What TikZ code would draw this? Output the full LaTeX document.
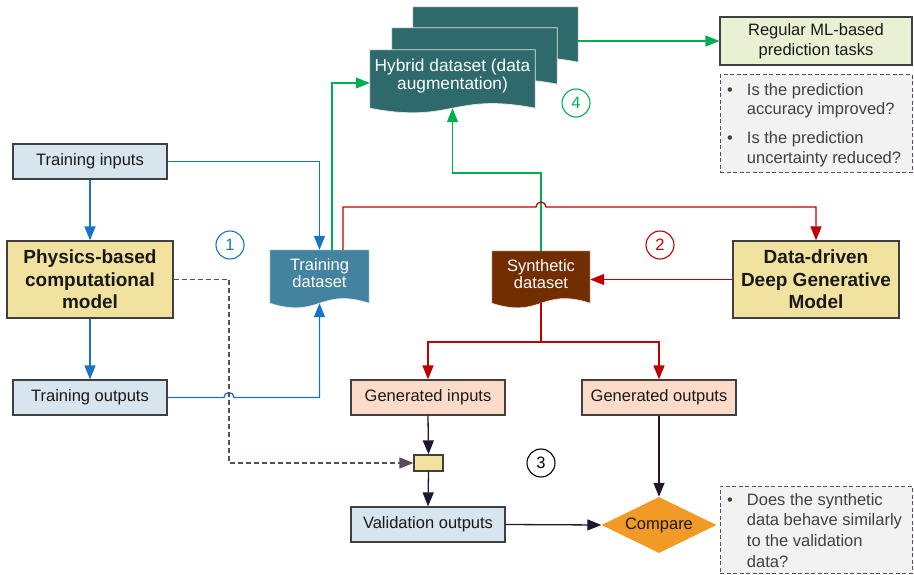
\documentclass[tikz,border=0pt]{standalone}
\usepackage{fontspec}
\setmainfont{Liberation Sans}
\usetikzlibrary{arrows.meta,calc,shapes.geometric}
\definecolor{lblue}{HTML}{D6E5EE}
\definecolor{khaki}{HTML}{F2E2A0}
\definecolor{peach}{HTML}{FCDCC9}
\definecolor{lgreen}{HTML}{EAF0D3}
\definecolor{qgray}{HTML}{F2F2F2}
\definecolor{qborder}{HTML}{5A4B69}
\definecolor{bord}{HTML}{404040}
\definecolor{hybcol}{HTML}{2E6A6B}
\definecolor{tdscol}{HTML}{44839F}
\definecolor{sdscol}{HTML}{722D00}
\definecolor{cblue}{HTML}{1874C6}
\definecolor{cred}{HTML}{C00000}
\definecolor{cgreen}{HTML}{00B050}
\definecolor{cdark}{HTML}{221530}
\definecolor{corange}{HTML}{F29A26}
\definecolor{qtxt}{HTML}{404040}
\definecolor{dashc}{HTML}{5A4A5A}
\newcommand\docpath[2]{\path[#2] (#1.north west) -- (#1.north east) -- (#1.south east) .. controls ($(#1.south)+(0,-16)$) and ($(#1.south)+(0,16)$) .. (#1.south west) -- cycle;}
\begin{document}
\begin{tikzpicture}[x=1pt,y=-1pt,
  font=\fontsize{16.5}{19.5}\selectfont,
  box/.style={draw=bord, line width=1.2pt, inner sep=0pt, align=center, text=black!90},
  lbbox/.style={box, fill=lblue, minimum width=154pt, minimum height=35pt},
  pbox/.style={box, fill=peach, minimum width=154pt, minimum height=35pt},
  kbox/.style={box, fill=khaki, minimum width=166pt, minimum height=77pt, font=\fontsize{19}{22.5}\selectfont\bfseries},
  qbox/.style={draw=qborder, fill=qgray, dash pattern=on 4pt off 2.5pt, line width=1pt, minimum width=192pt, inner sep=0pt},
  qtext/.style={text=qtxt, inner sep=0pt, anchor=north west, align=left},
  docbox/.style={inner sep=0pt},
  doctext/.style={text=white, align=center, inner sep=0pt},
  circ/.style={circle, draw, line width=1.1pt, minimum size=28pt, inner sep=0pt},
  conn/.style={line width=1.3pt},
  arr/.style={-{Triangle[length=14pt,width=11pt]}},
]
\useasboundingbox (0,0) rectangle (914,575);

% coordinates for routing
\coordinate (dcol) at (229,0);
\coordinate (redrow) at (0,207);
\coordinate (grow) at (0,173);
\coordinate (split) at (0,342);

% boxes
\node[lbbox] (tin) at (90,161.5) {Training inputs};
\node[kbox] (phys) at (90,279.5) {Physics-based\\computational\\model};
\node[lbbox] (tout) at (90,397.5) {Training outputs};
\node[kbox] (ddm) at (816,279.5) {Data-driven\\Deep Generative\\Model};
\node[pbox] (gin) at (428,397.5) {Generated inputs};
\node[pbox] (gout) at (659,397.5) {Generated outputs};
\node[lbbox] (vout) at (428,524.5) {Validation outputs};
\node[draw=bord, fill=khaki, line width=1.2pt, minimum width=29pt, minimum height=16pt, inner sep=0pt] (sbox) at (428.5,463) {};
\node[diamond, fill=corange, minimum width=115pt, minimum height=56pt, inner sep=0pt, aspect=2, text=black!90] (cmp) at (659,525) {Compare};
\node[box, fill=lgreen, minimum width=192pt, minimum height=48pt] (rml) at (816,41) {Regular ML-based\\prediction tasks};
\node[qbox, minimum height=98pt] (gq1) at (816,124) {};
\node[qbox, minimum height=87pt] (gq2) at (816,529.5) {};
\node[qtext] (gq1t) at (727,81.5) {\begin{tabular}{@{}l@{\hspace{14pt}}l@{}}\textbullet & Is the prediction\\ & accuracy improved?\\[9.5pt]\textbullet & Is the prediction\\ & uncertainty reduced?\end{tabular}};
\node[qtext, font=\fontsize{16.5}{20.7}\selectfont] (gq2t) at (727,490.5) {\begin{tabular}{@{}l@{\hspace{14pt}}l@{}}\textbullet & Does the synthetic\\ & data behave similarly\\ & to the validation\\ & data?\end{tabular}};

% document shapes
\node[docbox, minimum width=165pt, minimum height=55pt] (hb3) at (495.5,34.5) {};
\docpath{hb3}{fill=hybcol, draw=white!80!gray, line width=0.8pt}
\node[docbox, minimum width=165pt, minimum height=56pt] (hb2) at (474.5,56) {};
\docpath{hb2}{fill=hybcol, draw=white!80!gray, line width=0.8pt}
\node[docbox, minimum width=165pt, minimum height=58pt] (hyb) at (452.5,79) {};
\docpath{hyb}{fill=hybcol, draw=white!80!gray, line width=0.8pt}
\node[doctext, font=\fontsize{17.3}{17.5}\selectfont] (hybt) at (452.5,76) {Hybrid dataset (data\\augmentation)};

\node[docbox, minimum width=99pt, minimum height=53pt] (tds) at (319.5,276.5) {};
\docpath{tds}{fill=tdscol, draw=white!85!tdscol, line width=0.6pt}
\node[doctext, font=\fontsize{16.5}{17}\selectfont] (tdst) at (319.5,273.5) {Training\\dataset};

\node[docbox, minimum width=98pt, minimum height=52pt] (sds) at (541,277) {};
\docpath{sds}{fill=sdscol, draw=white!85!sdscol, line width=0.6pt}
\node[doctext, font=\fontsize{16.5}{17}\selectfont] (sdst) at (541,274) {Synthetic\\dataset};

% circles
\node[circ, draw=cblue, text=cblue] (c1) at (230,245) {1};
\node[circ, draw=cred, text=cred] (c2) at (660,245) {2};
\node[circ, draw=black, text=black] (c3) at (541,463) {3};
\node[circ, draw=cgreen, text=cgreen] (c4) at (576,103) {4};

% blue connectors
\draw[conn, cblue, arr] (tin.east) -| (tds.north);
\draw[conn, cblue, arr] (tin.south) -- (phys.north);
\draw[conn, cblue, arr] (phys.south) -- (tout.north);
\draw[conn, cblue, arr] (tout.east) -- ($(tout.east -| dcol)+(-5,0)$) arc[start angle=180, end angle=0, radius=5pt] -| (tds.south);

% dashed
\draw[line width=1.2pt, dashc, dash pattern=on 5pt off 3pt, arr] (phys.east) -- (phys.east -| dcol) |- (sbox.west);

% green connectors
\draw[conn, cgreen, arr] ($(tds.north)+(12.5,0)$) |- ($(hyb.west)+(0,4)$);
\draw[conn, cgreen, arr] (sds.north) -- (sds.north |- grow) -| (hyb.south);
\draw[conn, cgreen, arr] (hb3.east |- rml.west) -- (rml.west);

% red connectors
\draw[conn, cred, arr] ($(tds.north)+(23.5,0)$) |- ($(redrow -| sds.north)+(-5,0)$) arc[start angle=180, end angle=0, radius=5pt] -| (ddm.north);
\draw[conn, cred, arr] (ddm.west) -- (ddm.west -| sds.east);
\draw[conn, cred, arr] (sds.south) -- (sds.south |- split) -| (gin.north);
\draw[conn, cred, arr] (sds.south |- split) -| (gout.north);

% dark connectors
\draw[conn, cdark, arr] (gin.south) -- (sbox.north);
\draw[conn, cdark, arr] (sbox.south) -- (vout.north);
\draw[conn, cdark, arr] (vout.east) -- (cmp.west);
\draw[conn, cdark, arr] (gout.south) -- (cmp.north);
\end{tikzpicture}
\end{document}
